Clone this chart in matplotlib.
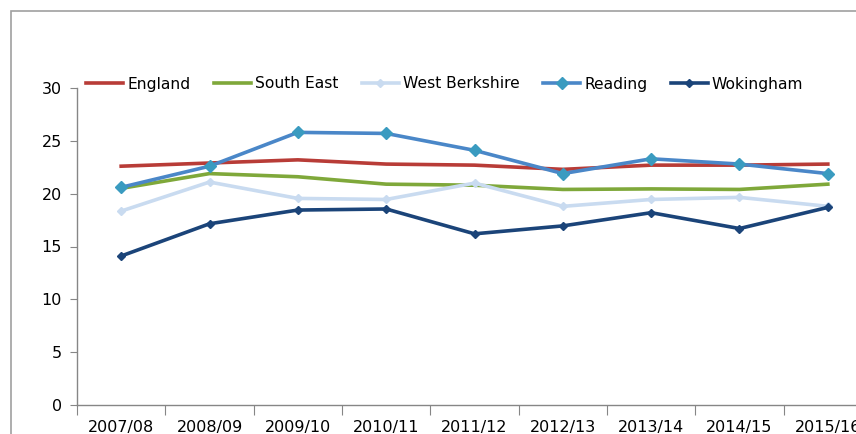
import matplotlib
matplotlib.use("Agg")
import matplotlib.pyplot as plt
from matplotlib.patches import Rectangle
from matplotlib.lines import Line2D

plt.rcParams["font.family"] = ["DejaVu Sans"]

years = ["2007/08", "2008/09", "2009/10", "2010/11", "2011/12",
         "2012/13", "2013/14", "2014/15", "2015/16"]
england = [22.6, 22.9, 23.2, 22.8, 22.7, 22.3, 22.7, 22.7, 22.8]
south_east = [20.5, 21.9, 21.6, 20.9, 20.8, 20.4, 20.45, 20.4, 20.9]
west_berkshire = [18.35, 21.1, 19.55, 19.45, 21.0, 18.8, 19.45, 19.65, 18.8]
reading = [20.6, 22.6, 25.8, 25.7, 24.1, 21.9, 23.3, 22.8, 21.9]
wokingham = [14.1, 17.15, 18.45, 18.55, 16.2, 16.95, 18.2, 16.7, 18.7]

# name, values, colour, marker, marker size, marker edge colour
SERIES = [
    ("England", england, "#B83C37", None, 0, None),
    ("South East", south_east, "#7FA83A", None, 0, None),
    ("West Berkshire", west_berkshire, "#C9DBF0", "D", 4.5, "#C9DBF0"),
    ("Reading", reading, "#4A87C8", "D", 6, "#3A9BC0"),
    ("Wokingham", wokingham, "#1B4479", "D", 4.5, "#1B4479"),
]

W, H = 856, 434
fig = plt.figure(figsize=(W / 100, H / 100), dpi=100)

# outer chart frame (cropped on right and bottom)
fig.patches.append(Rectangle((11 / W, -0.1), 1.2, (H - 11) / H + 0.1,
                             transform=fig.transFigure, fill=False,
                             edgecolor="#A0A0A0", linewidth=1.2))

ax = fig.add_axes([77 / W, (H - 405) / H, 795 / W, (405 - 88) / H])
x = list(range(len(years)))
for name, vals, col, mk, ms, mec in SERIES:
    ax.plot(x, vals, color=col, linewidth=2.6, marker=mk, markersize=ms,
            markerfacecolor=mec, markeredgecolor=mec, label=name,
            solid_joinstyle="round", clip_on=False)

ax.set_xlim(-0.5, len(years) - 0.5)
ax.set_ylim(0, 30)
ax.set_yticks([0, 5, 10, 15, 20, 25, 30])
ax.set_xticks([i - 0.5 for i in range(len(years) + 1)])
ax.set_xticklabels([])
ax.set_xticks(x, minor=True)
ax.set_xticklabels(years, minor=True)

gray = "#868686"
for s in ["top", "right"]:
    ax.spines[s].set_visible(False)
for s in ["left", "bottom"]:
    ax.spines[s].set_color(gray)
    ax.spines[s].set_linewidth(1.0)
ax.tick_params(axis="y", length=5, color=gray, labelsize=11.5, pad=6)
ax.tick_params(axis="x", which="major", length=7, color=gray)
ax.tick_params(axis="x", which="minor", length=0, labelsize=11.5, pad=11)

handles = [Line2D([], [], color=col, linewidth=2.6, marker=mk, markersize=ms,
                  markerfacecolor=mec, markeredgecolor=mec)
           for _, _, col, mk, ms, mec in SERIES]
fig.legend(handles, [s[0] for s in SERIES], loc="center left",
           bbox_to_anchor=(86 / W, 1 - 84 / H), ncol=5, frameon=False,
           fontsize=11.2, handlelength=2.4, handletextpad=0.25,
           columnspacing=1.5, borderaxespad=0, borderpad=0)

fig.savefig("out.png", dpi=100)
